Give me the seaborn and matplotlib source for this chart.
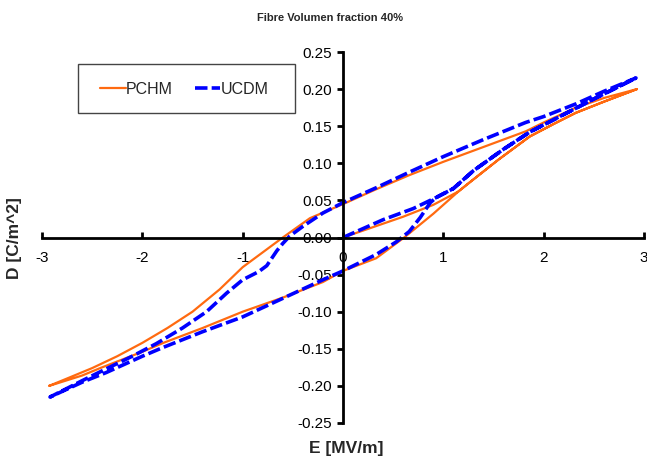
import matplotlib
matplotlib.use("Agg")
import matplotlib.pyplot as plt
import matplotlib.ticker as mticker
from matplotlib.patches import Rectangle
import seaborn as sns
import pandas as pd

# ---- data ----
pchm_E = [0, 0.3, 0.6, 0.9, 1.15, 1.26, 1.55, 1.86, 2.1, 2.32, 2.6, 2.93,
          2.6, 2.32, 2.0, 1.82, 1.4, 1.0, 0.66, 0.33, 0, -0.33, -0.6, -0.8, -1.0,
          -1.23, -1.5, -1.75, -2.0, -2.25, -2.5, -2.75, -2.93,
          -2.6, -2.42, -2.0, -1.79, -1.4, -1.0, -0.6, -0.2, 0, 0.33, 0.61, 0.9,
          1.15, 1.26, 1.55, 1.86, 2.1, 2.32, 2.6, 2.93]
pchm_D = [0, 0.014, 0.028, 0.044, 0.062, 0.074, 0.105, 0.136, 0.153, 0.168, 0.183, 0.200,
          0.188, 0.175, 0.155, 0.143, 0.122, 0.102, 0.084, 0.065, 0.045, 0.026, 0.0, -0.02, -0.04,
          -0.07, -0.10, -0.122, -0.142, -0.160, -0.176, -0.190, -0.200,
          -0.186, -0.176, -0.154, -0.142, -0.122, -0.10, -0.081, -0.06, -0.045, -0.028, 0.0, 0.032,
          0.062, 0.074, 0.105, 0.136, 0.153, 0.168, 0.183, 0.200]

ucdm_E = [0, 0.2, 0.4, 0.7, 0.93, 1.1, 1.3, 1.6, 1.86, 2.16, 2.49, 2.92,
          2.6, 2.32, 2.0, 1.82, 1.4, 1.0, 0.66, 0.33, 0, -0.2, -0.4, -0.53, -0.6, -0.66,
          -0.76, -0.84, -1.0, -1.16, -1.36, -1.6, -1.86, -2.1, -2.36, -2.6, -2.92,
          -2.6, -2.36, -2.0, -1.79, -1.4, -1.0, -0.6, -0.2, 0, 0.33, 0.53, 0.66, 0.77,
          0.87, 0.93, 1.1, 1.3, 1.6, 1.86, 2.16, 2.49, 2.92]
ucdm_D = [0, 0.012, 0.024, 0.039, 0.054, 0.066, 0.090, 0.119, 0.142, 0.163, 0.186, 0.215,
          0.197, 0.180, 0.163, 0.155, 0.132, 0.109, 0.088, 0.067, 0.047, 0.033, 0.015, 0.002, -0.008, -0.018,
          -0.038, -0.046, -0.057, -0.075, -0.100, -0.122, -0.143, -0.160, -0.177, -0.193, -0.215,
          -0.195, -0.182, -0.160, -0.148, -0.127, -0.107, -0.082, -0.057, -0.045, -0.023, -0.006, 0.008, 0.027,
          0.047, 0.054, 0.066, 0.090, 0.119, 0.142, 0.163, 0.186, 0.215]

x_ticks = [-3, -2, -1, 0, 1, 2, 3]
y_ticks = [-0.25, -0.20, -0.15, -0.10, -0.05, 0.00, 0.05, 0.10, 0.15, 0.20, 0.25]

title = "Fibre Volumen fraction 40%"
x_label = "E [MV/m]"
y_label = "D [C/m^2]"

sns.set_theme(style="white")
plt.rcParams['font.family'] = ['Liberation Sans', 'DejaVu Sans']
plt.rcParams['axes.unicode_minus'] = False
plt.rcParams['lines.scale_dashes'] = False

fig = plt.figure(figsize=(6.47, 4.58), dpi=100)
ax = fig.add_axes([42/647, 1 - 423/458, 602/647, 371/458])

df_p = pd.DataFrame({"E": pchm_E, "D": pchm_D})
df_u = pd.DataFrame({"E": ucdm_E, "D": ucdm_D})

sns.lineplot(data=df_p, x="E", y="D", sort=False, estimator=None, ax=ax,
             color="#FF6A10", linewidth=1.6, label="PCHM")
sns.lineplot(data=df_u, x="E", y="D", sort=False, estimator=None, ax=ax,
             color="#0000FF", linewidth=2.6, label="UCDM")
ax.lines[1].set_linestyle((0, (9, 3)))

ax.set_xlim(-3, 3)
ax.set_ylim(-0.25, 0.25)
ax.set_xticks(x_ticks)
ax.set_yticks(y_ticks)
ax.yaxis.set_major_formatter(mticker.FormatStrFormatter('%.2f'))
ax.xaxis.set_major_formatter(mticker.FormatStrFormatter('%d'))

for s in ['top', 'right']:
    ax.spines[s].set_visible(False)
ax.spines['left'].set_position(('data', 0))
ax.spines['bottom'].set_position(('data', 0))
for s in ['left', 'bottom']:
    ax.spines[s].set_color('black')
    ax.spines[s].set_linewidth(2.0)
ax.tick_params(axis='x', direction='in', length=4, width=2, color='black',
               labelsize=11, labelcolor='black', pad=10, bottom=True)
ax.tick_params(axis='y', direction='out', length=4, width=2, color='black',
               labelsize=11, labelcolor='black', pad=4, left=True)
ax.set_xlabel("")
ax.set_ylabel("")
ax.grid(False)

# legend box frame drawn separately for exact placement
fig.patches.append(Rectangle((78/647, 1 - 113/458), (295 - 78)/647, 49/458,
                             transform=fig.transFigure, fill=False,
                             edgecolor='#444444', linewidth=1.0, zorder=5))
leg = ax.legend(loc='center left', bbox_to_anchor=(100/647, 1 - 89/458),
                bbox_transform=fig.transFigure, ncol=2, frameon=False,
                fontsize=11.5, handlelength=1.6, handletextpad=0.0,
                columnspacing=1.4, borderpad=0.0, borderaxespad=0)

fig.text(330/647, 1 - 18/458, title, ha='center', va='center',
         fontsize=8, fontweight='bold')
fig.text(346/647, 1 - 448/458, x_label, ha='center', va='center',
         fontsize=12.5, fontweight='bold')
fig.text(15/647, 1 - 238/458, y_label, ha='center', va='center',
         rotation=90, fontsize=12.5, fontweight='bold')

fig.savefig("out.png", dpi=100)
